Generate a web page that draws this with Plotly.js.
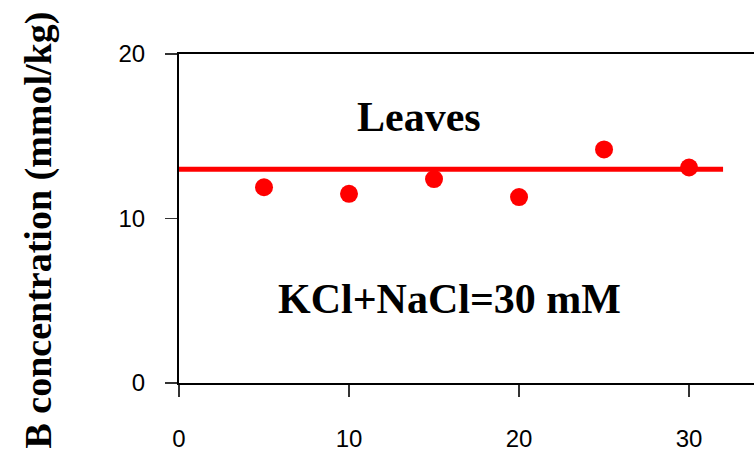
<!DOCTYPE html>
<html>
<head>
<meta charset="utf-8">
<script src="https://cdn.plot.ly/plotly-3.0.1.min.js"></script>
<style>html,body{margin:0;padding:0;background:#fff;}#chart{width:754px;height:455px;}</style>
</head>
<body>
<div id="chart"></div>
<script>
// Data
const salinity = [5, 10, 15, 20, 25, 30];
const boronLeaves = [11.9, 11.5, 12.4, 11.3, 14.2, 13.1];
const fitX = [-0.2, 32];
const fitY = [13.0, 13.0];
const xTicks = [0, 10, 20, 30];
const yTicks = [0, 10, 20];
const yTitle = 'B concentration (mmol/kg)';
const panelLabel = 'Leaves';
const treatmentLabel = 'KCl+NaCl=30 mM';

const traces = [
  {x: fitX, y: fitY, mode: 'lines', line: {color: '#ff0000', width: 5}, cliponaxis: false, showlegend: false, hoverinfo: 'skip'},
  {x: salinity, y: boronLeaves, mode: 'markers', marker: {color: '#ff0000', size: 18}, cliponaxis: false, showlegend: false}
];

const tickFont = {family: 'Liberation Sans, Arial, sans-serif', size: 24, color: '#000'};
const layout = {
  width: 754, height: 455,
  margin: {l: 179, r: 0, t: 54, b: 72, pad: 0},
  paper_bgcolor: '#fff', plot_bgcolor: '#fff',
  showlegend: false,
  xaxis: {
    range: [0, 33.82], tickvals: xTicks, ticktext: xTicks.map(String),
    showgrid: false, zeroline: false, showline: true, linecolor: '#000', linewidth: 2,
    mirror: true, ticks: 'outside', ticklen: 12, tickwidth: 1.5, tickcolor: '#333',
    tickfont: tickFont, ticklabelstandoff: 21
  },
  yaxis: {
    range: [0, 20], tickvals: yTicks, ticktext: yTicks.map(String),
    showgrid: false, zeroline: false, showline: true, linecolor: '#000', linewidth: 2,
    ticks: 'outside', ticklen: 12, tickwidth: 1.5, tickcolor: '#333',
    tickfont: tickFont, ticklabelstandoff: 15
  },
  annotations: [
    {text: panelLabel, xref: 'x', yref: 'y', x: 14.1, y: 16.2, showarrow: false,
     font: {family: 'Liberation Serif, Times New Roman, serif', size: 42, color: '#000', weight: 'bold'}},
    {text: treatmentLabel, xref: 'x', yref: 'y', x: 15.9, y: 5.1, showarrow: false,
     font: {family: 'Liberation Serif, Times New Roman, serif', size: 42, color: '#000', weight: 'bold'}},
    {text: yTitle, xref: 'paper', yref: 'paper', x: -0.246, y: 0.465, textangle: -90, showarrow: false,
     xanchor: 'center', yanchor: 'middle',
     font: {family: 'Liberation Serif, Times New Roman, serif', size: 38, color: '#000', weight: 'bold'}}
  ]
};

Plotly.newPlot('chart', traces, layout, {displayModeBar: false, staticPlot: true});
</script>
</body>
</html>
